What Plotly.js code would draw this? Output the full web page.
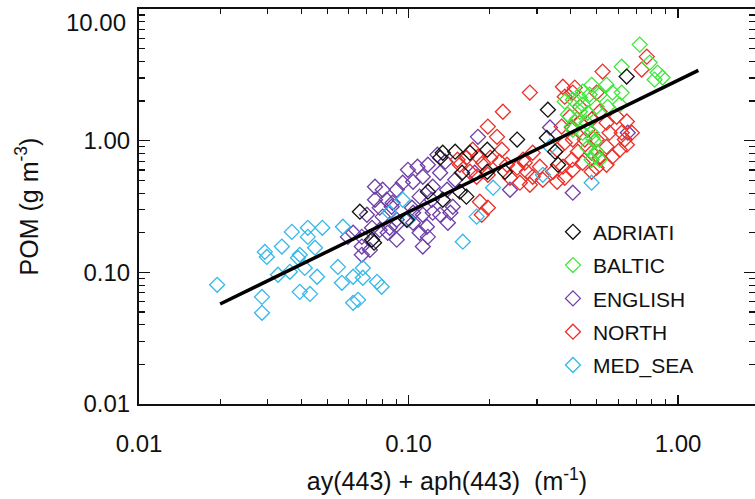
<!DOCTYPE html>
<html>
<head>
<meta charset="utf-8">
<script src="https://cdn.plot.ly/plotly-3.0.1.min.js"></script>
<style>html,body{margin:0;padding:0;background:#fff;overflow:hidden}#chart{width:755px;height:499px}</style>
</head>
<body>
<div id="chart"></div>
<script>
// ---- Data ----
const seriesNames = ["ADRIATI", "BALTIC", "ENGLISH", "NORTH", "MED_SEA"];

const adriatiX = [0.0660,0.0732,0.0986,0.118,0.131,0.149,0.169,0.134,0.155,0.164,0.196,0.158,0.196,0.228,0.253,0.329,0.326,0.350,0.359,0.645,0.134,0.0745];
const adriatiY = [0.289,0.177,0.251,0.410,0.743,0.825,0.810,0.356,0.410,0.376,0.854,0.571,0.581,0.581,1.02,1.72,1.05,0.825,0.657,3.07,0.810,0.168];

const balticX = [0.721,0.618,0.785,0.840,0.877,0.819,0.478,0.543,0.571,0.470,0.432,0.512,0.407,0.443,0.499,0.432,0.462,0.390,0.421,0.458,0.407,0.443,0.478,0.490,0.462,0.490,0.512,0.548,0.380,0.618,0.443,0.608,0.404,0.482,0.499,0.478];
const balticY = [5.37,3.65,3.92,3.29,3.02,2.91,2.66,2.66,2.32,2.24,2.13,2.24,2.05,1.88,1.81,1.66,1.63,1.58,1.45,1.37,1.21,1.15,1.15,0.983,0.885,0.783,0.717,1.81,1.98,2.32,2.36,1.88,1.28,1.05,0.825,0.717];

const englishX = [0.0751,0.0802,0.0904,0.0751,0.0830,0.0782,0.0866,0.0995,0.108,0.118,0.113,0.104,0.123,0.110,0.122,0.104,0.113,0.123,0.131,0.140,0.117,0.110,0.118,0.0904,0.0802,0.0851,0.0904,0.0782,0.0596,0.0671,0.0719,0.0671,0.146,0.139,0.149,0.181,0.176,0.131,0.128,0.137,0.0952,0.103,0.0873,0.0701,0.0623,0.0671,0.0732,0.0904,0.0837,0.104,0.113,0.238,0.407,0.335,0.651,0.143];
const englishY = [0.447,0.424,0.424,0.356,0.356,0.310,0.315,0.601,0.635,0.657,0.532,0.488,0.447,0.376,0.356,0.284,0.274,0.284,0.274,0.238,0.222,0.200,0.186,0.251,0.265,0.218,0.177,0.210,0.186,0.157,0.148,0.136,0.315,0.424,0.505,1.07,0.571,0.571,0.783,0.693,0.480,0.310,0.338,0.274,0.200,0.186,0.218,0.230,0.200,0.238,0.157,0.424,0.403,1.26,1.15,0.284];

const northX = [0.282,0.224,0.197,0.525,0.766,0.733,0.374,0.380,0.407,0.432,0.397,0.370,0.404,0.432,0.478,0.543,0.592,0.646,0.674,0.618,0.557,0.646,0.608,0.543,0.499,0.451,0.407,0.380,0.356,0.425,0.478,0.512,0.543,0.571,0.499,0.443,0.404,0.374,0.407,0.380,0.344,0.307,0.289,0.270,0.253,0.275,0.289,0.315,0.356,0.282,0.259,0.232,0.222,0.213,0.218,0.201,0.181,0.173,0.164,0.155,0.189,0.197,0.238,0.169,0.184,0.197,0.478,0.635,0.462,0.512,0.499,0.414,0.152,0.266,0.187,0.179];
const northY = [2.32,1.66,1.28,3.35,4.35,3.47,2.57,2.16,2.32,1.81,1.52,1.28,1.26,1.37,1.45,1.37,1.52,1.40,1.15,1.15,1.15,0.933,0.854,0.901,1.02,1.02,1.02,0.966,0.854,0.825,0.810,0.743,0.657,0.756,0.624,0.680,0.717,0.635,0.601,0.523,0.581,0.635,0.810,0.680,0.624,0.581,0.532,0.505,0.488,0.463,0.480,0.657,0.854,1.07,0.693,0.743,0.756,0.854,0.743,0.657,0.680,0.551,0.523,0.581,0.344,0.310,0.581,1.02,1.21,1.66,2.32,2.53,0.717,0.717,0.274,0.532];

const medX = [0.0195,0.0286,0.0286,0.0293,0.0298,0.0339,0.0369,0.0423,0.0423,0.0479,0.0450,0.0389,0.0328,0.0363,0.0412,0.0458,0.0395,0.0431,0.0547,0.0571,0.0566,0.0623,0.0677,0.0677,0.0764,0.0795,0.0623,0.0650,0.0395,0.0851,0.0952,0.0995,0.159,0.179,0.206,0.478,0.335,0.315];
const medY = [0.0804,0.0651,0.0493,0.143,0.131,0.157,0.203,0.218,0.186,0.218,0.154,0.129,0.0959,0.101,0.108,0.0926,0.0711,0.0686,0.110,0.222,0.0833,0.0926,0.108,0.0910,0.0847,0.0777,0.0587,0.0618,0.136,0.284,0.356,0.251,0.171,0.265,0.440,0.480,0.901,0.551];

const fitX = [0.0200, 1.19];
const fitY = [0.0575, 3.42];

const xTickVals = [0.01, 0.1, 1];
const xTickText = ["0.01", "0.10", "1.00"];
const yTickVals = [0.01, 0.1, 1, 10];
const yTickText = ["0.01", "0.10", "1.00", ""];
const yTopLabel = "10.00";
const minorVals = [0.02,0.03,0.04,0.05,0.06,0.07,0.08,0.09,0.2,0.3,0.4,0.5,0.6,0.7,0.8,0.9,2,3,4,5,6,7,8,9];

// ---- Styles ----
const colors = {ADRIATI:"#111111", BALTIC:"#3ee83a", ENGLISH:"#6e3fa8", NORTH:"#ea3029", MED_SEA:"#33b8ea"};
const ranks = {ADRIATI:1, BALTIC:2, ENGLISH:3, NORTH:4, MED_SEA:5};
const FONT = "Liberation Sans, Arial, Helvetica, sans-serif";

function sc(name, x, y) {
  return {
    type: "scatter", mode: "markers", name: name, x: x, y: y,
    legendgroup: name, legendrank: ranks[name],
    marker: {symbol: "diamond-open", size: 11.5, color: colors[name], line: {width: 1.3, color: colors[name]}},
    hoverinfo: "x+y+name"
  };
}

const traces = [
  sc("ENGLISH", englishX, englishY),
  sc("NORTH", northX, northY),
  sc("BALTIC", balticX, balticY),
  sc("MED_SEA", medX, medY),
  sc("ADRIATI", adriatiX, adriatiY),
  {type:"scatter", mode:"lines", x: fitX, y: fitY, showlegend:false,
   line:{color:"#000", width:3.5}, hoverinfo:"skip"}
];

const axisCommon = {
  type: "log", showgrid: false, zeroline: false,
  showline: true, linecolor: "#111", linewidth: 2, mirror: "allticks",
  ticks: "inside", tickcolor: "#111", tickwidth: 1.3,
  tickmode: "array",
  tickfont: {family: FONT, size: 24, color: "#111"}
};

const layout = {
  width: 755, height: 499,
  margin: {l: 139, r: 0, t: 9, b: 95, pad: 0},
  paper_bgcolor: "#fff", plot_bgcolor: "#fff",
  font: {family: FONT, color: "#111"},
  xaxis: Object.assign({}, axisCommon, {
    range: [-2, 0.2857],
    tickvals: xTickVals, ticktext: xTickText, ticklen: 9,
    ticklabelstandoff: 17,
    minor: {tickmode: "array", tickvals: minorVals, ticks: "inside", ticklen: 5, tickwidth: 1.2, tickcolor: "#111", showgrid: false},
    title: {text: "ay(443) + aph(443)  (m<sup>-1</sup>)", font: {family: FONT, size: 25, color: "#111"}, standoff: 17}
  }),
  yaxis: Object.assign({}, axisCommon, {
    range: [-2, 1.0005],
    tickvals: yTickVals, ticktext: yTickText, ticklen: 11,
    ticklabelstandoff: 2,
    minor: {tickmode: "array", tickvals: minorVals, ticks: "inside", ticklen: 6, tickwidth: 1.2, tickcolor: "#111", showgrid: false},
    title: {text: "POM (g m<sup>-3</sup>)", font: {family: FONT, size: 25, color: "#111"}, standoff: 38}
  }),
  annotations: [{
    text: yTopLabel, xref: "paper", yref: "paper", x: 0, y: 0.967,
    xanchor: "right", yanchor: "middle", xshift: -11, showarrow: false,
    font: {family: FONT, size: 24, color: "#111"}
  }],
  showlegend: true,
  legend: {
    x: 0.672, y: 0.487, xanchor: "left", yanchor: "top",
    bgcolor: "rgba(0,0,0,0)", borderwidth: 0,
    font: {family: FONT, size: 21, color: "#111"},
    traceorder: "grouped", tracegroupgap: 3,
    itemwidth: 30
  }
};

Plotly.newPlot("chart", traces, layout, {displayModeBar: false, staticPlot: true});
</script>
</body>
</html>
